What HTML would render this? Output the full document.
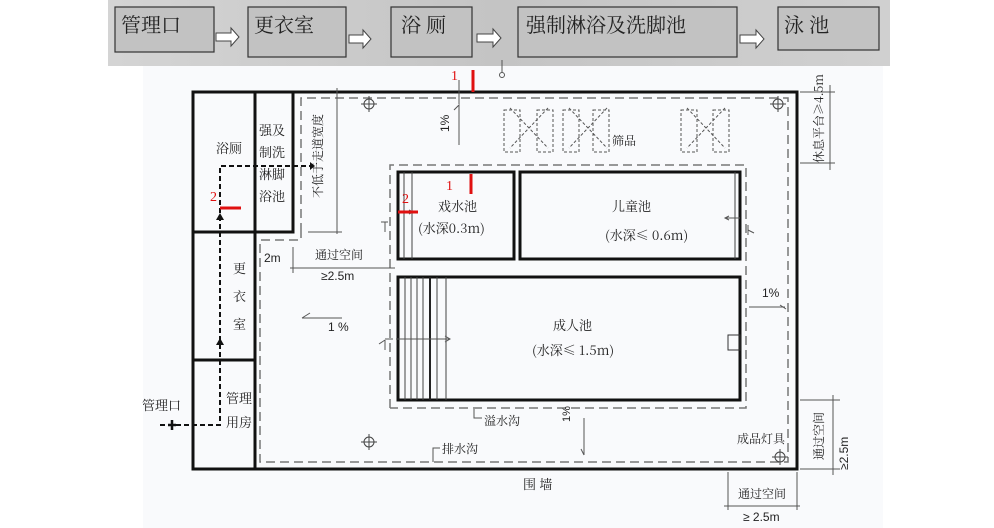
<!DOCTYPE html>
<html><head><meta charset="utf-8"><style>
html,body{margin:0;padding:0;background:#fff;}
svg{display:block;}
text{font-family:"Liberation Sans","Noto Sans CJK SC",sans-serif;fill:#222;}
.cj{font-family:"Noto Serif CJK SC","Noto Sans CJK SC",serif;}
</style></head><body>
<svg width="994" height="528" viewBox="0 0 994 528" xmlns="http://www.w3.org/2000/svg">
<defs>
<linearGradient id="bg" x1="0" y1="0" x2="1" y2="0">
<stop offset="0" stop-color="#d4d4d4"/><stop offset="0.5" stop-color="#c4c4c4"/><stop offset="1" stop-color="#d0d0d0"/>
</linearGradient>
</defs>
<rect x="143" y="66" width="740" height="462" fill="#f9fafc"/>
<rect x="108" y="0" width="782" height="66" fill="url(#bg)"/>
<g stroke="#333" stroke-width="1.2" fill="#c2c2c2">
<rect x="115" y="7" width="99" height="45"/>
<rect x="248" y="7" width="98" height="50"/>
<rect x="391" y="7" width="81" height="50"/>
<rect x="518" y="7" width="219" height="50"/>
<rect x="778" y="7" width="101" height="43"/>
</g>
<g fill="#fff" stroke="#444" stroke-width="1">
<path d="M216 33h15v-5l8 9l-8 9v-5h-15z"/>
<path d="M349 35h14v-5l8 9l-8 9v-5h-14z"/>
<path d="M477 34h16v-5l8 9l-8 9v-5h-16z"/>
<path d="M740 35h16v-5l8 9l-8 9v-5h-16z"/>
</g>
<g class="cj" font-size="20" fill="#111">
<text x="121" y="32" class="cj">管理口</text>
<text x="254" y="32" class="cj">更衣室</text>
<text x="401" y="32" class="cj">浴 厕</text>
<text x="526" y="32" class="cj">强制淋浴及洗脚池</text>
<text x="784" y="32" class="cj">泳 池</text>
</g>
<!-- walls -->
<g stroke="#111" stroke-width="3" fill="none">
<rect x="193" y="92" width="604" height="377"/>
<line x1="255" y1="92" x2="255" y2="469"/>
<polyline points="193,232 293,232 293,92"/>
<line x1="193" y1="360" x2="255" y2="360"/>
<rect x="398" y="172" width="116" height="87"/>
<rect x="520" y="172" width="220" height="87"/>
<rect x="398" y="277" width="342" height="123"/>
</g>
<!-- dashed -->
<g stroke="#777" stroke-width="1.5" fill="none" stroke-dasharray="9,5">
<polyline points="301,232 301,98 788,98 788,462 260,462 260,240 301,240 301,232"/>
<polyline points="390,408 390,165 746,165 746,408 390,408"/>
</g>
<!-- stair lines -->
<g stroke="#444" stroke-width="1">
<line x1="405" y1="277" x2="405" y2="400"/><line x1="411" y1="277" x2="411" y2="400"/>
<line x1="417" y1="277" x2="417" y2="400"/><line x1="423" y1="277" x2="423" y2="400"/>
<line x1="437" y1="277" x2="437" y2="400"/><line x1="446" y1="277" x2="446" y2="400"/>
<line x1="404" y1="172" x2="404" y2="259"/><line x1="412" y1="172" x2="412" y2="259"/>
<line x1="735" y1="172" x2="735" y2="259"/>
</g>
<line x1="430" y1="277" x2="430" y2="400" stroke="#222" stroke-width="2"/>
<rect x="728" y="335" width="12" height="15" fill="none" stroke="#333"/>
<!-- thin guide lines -->
<g stroke="#555" stroke-width="1" fill="none">
<line x1="337" y1="88" x2="337" y2="234"/><line x1="308" y1="232" x2="342" y2="232"/>
<line x1="290" y1="268" x2="395" y2="268"/><line x1="293" y1="247" x2="293" y2="273"/>
<polyline points="459,104 459,80"/>
<polyline points="459,145 459,105 454,110"/>
<line x1="502" y1="60" x2="502" y2="73"/><circle cx="502" cy="75" r="2.5"/>
<line x1="302" y1="318" x2="342" y2="318"/><line x1="302" y1="318" x2="310" y2="313"/>
<line x1="396" y1="339" x2="450" y2="339"/><path d="M445 336l5 3l-5 3"/>
<line x1="385" y1="339" x2="393" y2="339"/><path d="M385 340v10M385 340l-6 4"/>
<line x1="400" y1="212" x2="413" y2="212"/><path d="M409 210l4 2l-4 2"/>
<line x1="381" y1="222" x2="388" y2="222"/><path d="M385 222v10"/>
<line x1="725" y1="218" x2="740" y2="218"/><path d="M729 216l-4 2l4 2"/>
<path d="M748 225v10M748 230l6 3"/>
<line x1="749" y1="307" x2="785" y2="307"/><line x1="780" y1="305" x2="786" y2="309"/>
<line x1="584" y1="418" x2="584" y2="455"/><line x1="584" y1="455" x2="581" y2="449"/>
<polyline points="474,409 474,418 482,418"/>
<polyline points="433,462 433,448 440,448"/>
<line x1="800" y1="92" x2="835" y2="92"/><line x1="800" y1="163" x2="835" y2="163"/>
<line x1="830" y1="85" x2="830" y2="170"/>
<line x1="800" y1="400" x2="840" y2="400"/><line x1="800" y1="469" x2="840" y2="469"/>
<line x1="833" y1="395" x2="833" y2="475"/>
<line x1="728" y1="472" x2="728" y2="510"/><line x1="797" y1="472" x2="797" y2="510"/>
<line x1="724" y1="506" x2="800" y2="506"/>
</g>
<!-- lamp symbols -->
<g stroke="#444" stroke-width="1" fill="none">
<circle cx="369" cy="104" r="5"/><path d="M361 104h16M369 96v16"/>
<circle cx="778" cy="104" r="5"/><path d="M770 104h16M778 96v16"/>
<circle cx="369" cy="442" r="5"/><path d="M361 442h16M369 434v16"/>
<circle cx="780" cy="457" r="5"/><path d="M772 457h16M780 449v16"/>
</g>
<g stroke="#555" stroke-width="1" fill="none" stroke-dasharray="3,2">
<path d="M504 110h16v42h-16zM537 110h16v42h-16zM510 108l38 40M548 108l-38 40"/>
<path d="M563 110h16v42h-16zM593 110h16v42h-16zM569 108l38 40M607 108l-38 40"/>
<path d="M681 110h16v42h-16zM713 110h16v42h-16zM687 108l38 40M725 108l-38 40"/>
</g>
<!-- dashed route -->
<g stroke="#111" stroke-width="2" fill="none" stroke-dasharray="5,3">
<polyline points="160,425 220,425 220,166 310,166"/>
</g>
<path d="M310 162v8l5-4z" fill="#111"/>
<path d="M216 220l4-7l4 7z" fill="#111"/><path d="M216 345l4-7l4 7z" fill="#111"/>
<path d="M172 420v10M168 425h8" stroke="#111" stroke-width="2.5"/>
<!-- red markers -->
<g stroke="#e01010" stroke-width="3">
<line x1="473" y1="70" x2="473" y2="92"/>
<line x1="471" y1="174" x2="471" y2="194"/>
<line x1="220" y1="208" x2="241" y2="208"/>
<line x1="398" y1="212" x2="418" y2="212"/>
</g>
<g font-family="Liberation Serif,serif" font-size="14" fill="#e01010">
<text x="451" y="80" style="fill:#e01010;font-family:'Liberation Serif',serif">1</text>
<text x="446" y="190" style="fill:#e01010;font-family:'Liberation Serif',serif">1</text>
<text x="210" y="201" style="fill:#e01010;font-family:'Liberation Serif',serif">2</text>
<text x="402" y="203" style="fill:#e01010;font-family:'Liberation Serif',serif">2</text>
</g>
<!-- labels -->
<g class="cj" font-size="13">
<text x="216" y="153" class="cj">浴厕</text>
<text x="259" y="135" class="cj">强及</text>
<text x="259" y="157" class="cj">制洗</text>
<text x="259" y="179" class="cj">淋脚</text>
<text x="259" y="201" class="cj">浴池</text>
<text x="233" y="273" class="cj">更</text>
<text x="233" y="301" class="cj">衣</text>
<text x="233" y="329" class="cj">室</text>
<text x="226" y="403" class="cj">管理</text>
<text x="226" y="427" class="cj">用房</text>
<text x="142" y="410" class="cj">管理口</text>
<text x="315" y="259" font-size="12" class="cj">通过空间</text>
<text x="321" y="280" font-size="12">≥2.5m</text>
<text x="264" y="262" font-size="12">2m</text>
<text x="322" y="198" font-size="12" class="cj" transform="rotate(-90 322 198)">不低于走道宽度</text>
<text x="328" y="331" font-size="12">1 %</text>
<text x="449" y="132" font-size="12" transform="rotate(-90 449 132)">1%</text>
<text x="438" y="211" class="cj" font-size="13">戏水池</text>
<text x="418" y="233" font-size="13" class="cj">(水深0.3m)</text>
<text x="612" y="211" class="cj" font-size="13">儿童池</text>
<text x="605" y="240" font-size="13" class="cj">(水深≤ 0.6m)</text>
<text x="553" y="330" class="cj" font-size="13">成人池</text>
<text x="532" y="355" font-size="13" class="cj">(水深≤ 1.5m)</text>
<text x="612" y="145" class="cj" font-size="12">筛品</text>
<text x="762" y="297" font-size="12">1%</text>
<text x="484" y="425" class="cj" font-size="12">溢水沟</text>
<text x="442" y="453" class="cj" font-size="12">排水沟</text>
<text x="570" y="422" font-size="11" transform="rotate(-90 570 422)">1%</text>
<text x="523" y="489" class="cj" font-size="13">围 墙</text>
<text x="737" y="443" class="cj" font-size="12">成品灯具</text>
<text x="738" y="498" class="cj" font-size="12">通过空间</text>
<text x="743" y="521" font-size="12">≥ 2.5m</text>
<text x="823" y="163" class="cj" font-size="12" transform="rotate(-90 823 163)">休息平台≥4.5m</text>
<text x="823" y="460" class="cj" font-size="12" transform="rotate(-90 823 460)">通过空间</text>
<text x="848" y="470" font-size="12" transform="rotate(-90 848 470)">≥2.5m</text>
</g>
</svg>
</body></html>
